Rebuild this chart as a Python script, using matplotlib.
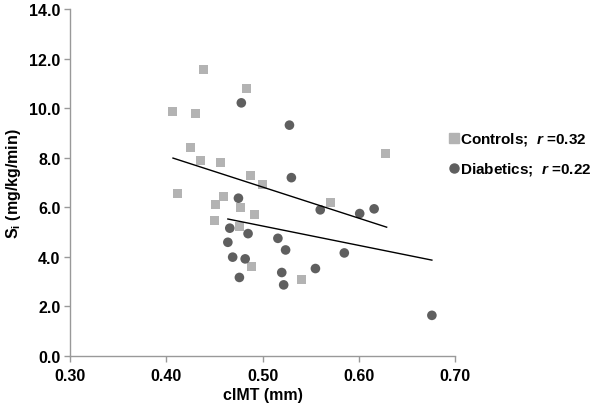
import matplotlib
matplotlib.use("Agg")
import matplotlib.pyplot as plt
from matplotlib.lines import Line2D
from matplotlib.ticker import FormatStrFormatter

plt.rcParams['font.family'] = ['Liberation Sans', 'DejaVu Sans']
plt.rcParams['font.weight'] = 'bold'
plt.rcParams['mathtext.fontset'] = 'custom'
plt.rcParams['mathtext.rm'] = 'Liberation Sans:bold'
plt.rcParams['mathtext.it'] = 'Liberation Sans:bold:italic'
plt.rcParams['mathtext.bf'] = 'Liberation Sans:bold'

# controls (squares)
ctrl_x = [0.439, 0.483, 0.407, 0.430, 0.425, 0.436, 0.456, 0.488, 0.500, 0.412,
          0.459, 0.571, 0.451, 0.477, 0.492, 0.450, 0.476, 0.489, 0.541, 0.628]
ctrl_y = [11.57, 10.78, 9.85, 9.77, 8.39, 7.90, 7.81, 7.26, 6.91, 6.56,
          6.44, 6.18, 6.10, 5.98, 5.71, 5.47, 5.21, 3.60, 3.06, 8.16]

# diabetics (circles)
diab_x = [0.478, 0.528, 0.530, 0.475, 0.560, 0.601, 0.616, 0.466, 0.485, 0.516,
          0.464, 0.524, 0.585, 0.469, 0.482, 0.555, 0.520, 0.476, 0.522, 0.676]
diab_y = [10.21, 9.31, 7.19, 6.36, 5.89, 5.74, 5.93, 5.15, 4.93, 4.74,
          4.58, 4.27, 4.15, 3.98, 3.91, 3.52, 3.36, 3.16, 2.86, 1.63]

# trend lines (end points)
ctrl_trend_x = [0.407, 0.629]
ctrl_trend_y = [7.98, 5.19]
diab_trend_x = [0.464, 0.676]
diab_trend_y = [5.52, 3.86]

sq_color = '#b3b3b3'
ci_color = '#5f5f5f'

fig = plt.figure(figsize=(6.0, 4.06), dpi=100)
ax = fig.add_axes([0.1167, 0.1214, 0.6416, 0.854])

ax.scatter(ctrl_x, ctrl_y, marker='s', s=42, color=sq_color, edgecolors='none', zorder=3)
ax.scatter(diab_x, diab_y, marker='o', s=48, color=ci_color, edgecolors='none', zorder=3)
ax.plot(ctrl_trend_x, ctrl_trend_y, color='black', lw=1.0, zorder=4)
ax.plot(diab_trend_x, diab_trend_y, color='black', lw=1.0, zorder=4)

ax.set_xlim(0.30, 0.70)
ax.set_ylim(0, 14)
ax.set_xticks([0.30, 0.40, 0.50, 0.60, 0.70])
ax.set_yticks(range(0, 15, 2))
ax.xaxis.set_major_formatter(FormatStrFormatter('%.2f'))
ax.yaxis.set_major_formatter(FormatStrFormatter('%.1f'))

for s in ['top', 'right']:
    ax.spines[s].set_visible(False)
for s in ['left', 'bottom']:
    ax.spines[s].set_color('#999999')
    ax.spines[s].set_linewidth(1.0)
ax.tick_params(direction='out', length=4, width=1.0, color='#999999',
               labelsize=11.5, labelcolor='black')
ax.tick_params(axis='x', pad=5)
ax.tick_params(axis='y', pad=3)

ax.set_xlabel('cIMT (mm)', fontsize=11.5, fontweight='bold', labelpad=3)
ax.set_ylabel('S$_\\mathrm{i}$ (mg/kg/min)', fontsize=11.5, fontweight='bold', labelpad=4)

handles = [
    Line2D([], [], marker='s', ls='none', color=sq_color, markersize=6.5),
    Line2D([], [], marker='o', ls='none', color=ci_color, markersize=6.5),
]
labels = ['Controls;  $\\mathit{r}$ =0.32', 'Diabetics;  $\\mathit{r}$ =0.22']
fig.legend(handles, labels, loc='upper left', bbox_to_anchor=(0.737, 0.695),
           frameon=False, fontsize=11, handlelength=0.5, handletextpad=0.15,
           labelspacing=0.85, borderpad=0)

fig.savefig('out.png', dpi=100)
